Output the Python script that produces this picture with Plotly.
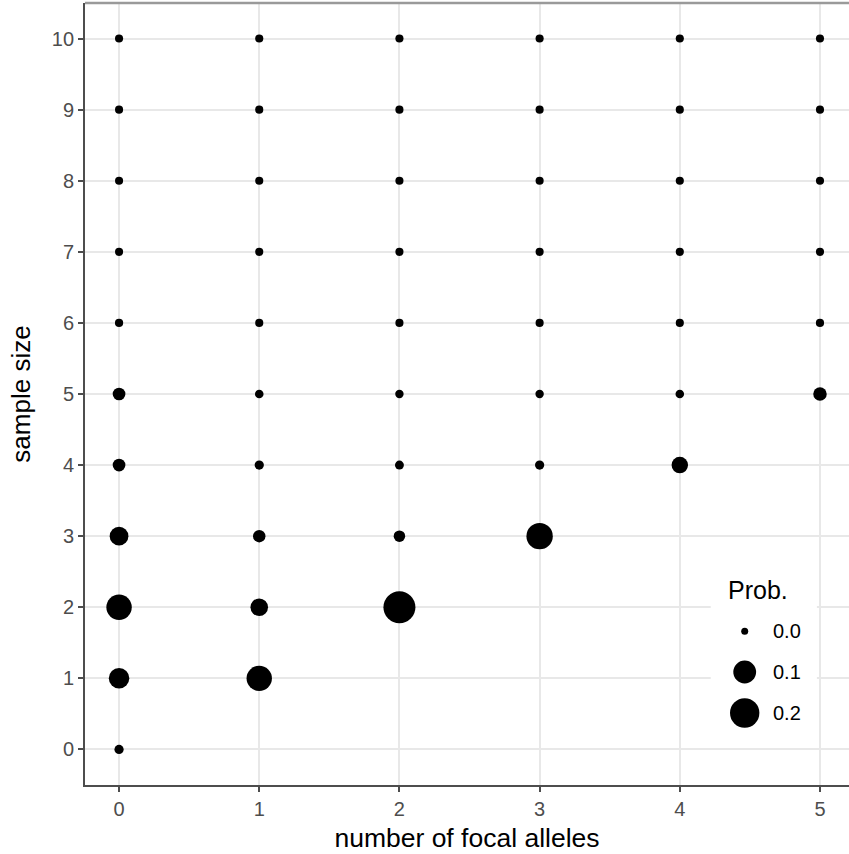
import plotly.graph_objects as go
import numpy as np

# ---- data ----
focal_alleles = [0,
                 0, 1,
                 0, 1, 2,
                 0, 1, 2, 3,
                 0, 1, 2, 3, 4,
                 0, 1, 2, 3, 4, 5,
                 0, 1, 2, 3, 4, 5,
                 0, 1, 2, 3, 4, 5,
                 0, 1, 2, 3, 4, 5,
                 0, 1, 2, 3, 4, 5,
                 0, 1, 2, 3, 4, 5]
sample_size = [0,
               1, 1,
               2, 2, 2,
               3, 3, 3, 3,
               4, 4, 4, 4, 4,
               5, 5, 5, 5, 5, 5,
               6, 6, 6, 6, 6, 6,
               7, 7, 7, 7, 7, 7,
               8, 8, 8, 8, 8, 8,
               9, 9, 9, 9, 9, 9,
               10, 10, 10, 10, 10, 10]
prob = [0.002,
        0.073, 0.135,
        0.135, 0.045, 0.25,
        0.055, 0.012, 0.008, 0.15,
        0.013, 0.002, 0.0015, 0.002, 0.036,
        0.013, 0.001, 0.0008, 0.0008, 0.001, 0.017,
        0.0006, 0.0005, 0.0005, 0.0005, 0.0005, 0.0006,
        0.0005, 0.0005, 0.0005, 0.0005, 0.0005, 0.0005,
        0.0005, 0.0005, 0.0005, 0.0005, 0.0005, 0.0005,
        0.0005, 0.0005, 0.0005, 0.0005, 0.0005, 0.0005,
        0.0005, 0.0005, 0.0005, 0.0005, 0.0005, 0.0005]

x_ticks = [0, 1, 2, 3, 4, 5]
y_ticks = [0, 1, 2, 3, 4, 5, 6, 7, 8, 9, 10]
legend_breaks = [0.0, 0.1, 0.2]
legend_labels = ["0.0", "0.1", "0.2"]
legend_title = "Prob."
x_title = "number of focal alleles"
y_title = "sample size"


def dot_diameter(p):
    # area-style size scale (diameter grows with sqrt of probability)
    return 7 + 50 * np.sqrt(np.asarray(p, dtype=float))


FONT = "Liberation Sans, Arial, Helvetica, sans-serif"
W, H = 849, 854
ML, MR, MT, MB = 85, 0, 3, 69

fig = go.Figure()

fig.add_trace(go.Scatter(
    x=focal_alleles, y=sample_size, mode="markers",
    marker=dict(size=dot_diameter(prob), sizemode="diameter", color="#000000",
                line=dict(width=0), opacity=1),
    showlegend=False, hoverinfo="x+y+text", text=[f"{p}" for p in prob],
))

# legend (size guide) drawn in its own small subplot
leg_rows = [0.638, 0.387, 0.135]
fig.add_trace(go.Scatter(
    x=[0.32] * len(legend_breaks), y=leg_rows, mode="markers",
    marker=dict(size=dot_diameter(legend_breaks), sizemode="diameter", color="#000000",
                line=dict(width=0), opacity=1),
    xaxis="x2", yaxis="y2", showlegend=False, hoverinfo="skip",
    cliponaxis=False,
))
for lab, yy in zip(legend_labels, leg_rows):
    fig.add_annotation(x=0.565, y=yy, xref="x2", yref="y2", text=lab, showarrow=False,
                       xanchor="left", yanchor="middle",
                       font=dict(family=FONT, size=20, color="black"))

fig.add_annotation(
    x=0.14, y=0.89, xref="x2", yref="y2", text=legend_title, showarrow=False,
    xanchor="left", yanchor="middle", font=dict(family=FONT, size=25, color="black"),
)

# top panel border (partly cropped in the reference)
fig.add_shape(type="line", xref="paper", yref="paper", x0=0, x1=1, y0=1, y1=1,
              line=dict(color="#9A9A9A", width=2.5), layer="above")

fig.update_layout(
    width=W, height=H,
    margin=dict(l=ML, r=MR, t=MT, b=MB, pad=0),
    paper_bgcolor="white", plot_bgcolor="white",
    font=dict(family=FONT, color="black"),
    xaxis=dict(
        range=[-0.243, 5.207], tickvals=x_ticks, ticktext=[str(v) for v in x_ticks],
        showgrid=True, gridcolor="#E8E8E8", gridwidth=1.6, zeroline=False,
        showline=True, linecolor="#4D4D4D", linewidth=1.8,
        ticks="outside", ticklen=5, tickwidth=1.6, tickcolor="#4D4D4D",
        tickfont=dict(family=FONT, size=20, color="#4D4D4D"),
        title=dict(text=x_title, font=dict(family=FONT, size=26.5, color="black"), standoff=10),
        fixedrange=True,
    ),
    yaxis=dict(
        range=[-0.5, 10.5], tickvals=y_ticks, ticktext=[str(v) for v in y_ticks],
        showgrid=True, gridcolor="#E8E8E8", gridwidth=1.6, zeroline=False,
        showline=True, linecolor="#4D4D4D", linewidth=1.8,
        ticks="outside", ticklen=5, tickwidth=1.6, tickcolor="#4D4D4D",
        tickfont=dict(family=FONT, size=20, color="#4D4D4D"),
        title=dict(text=y_title, font=dict(family=FONT, size=26, color="black"), standoff=14),
        fixedrange=True,
    ),
    xaxis2=dict(domain=[0.819, 0.958], range=[0, 1], visible=False, fixedrange=True,
                anchor="y2"),
    yaxis2=dict(domain=[0.064, 0.272], range=[0, 1], visible=False, fixedrange=True,
                anchor="x2"),
)

fig.write_html("out.html", config={"displayModeBar": False},
               post_script="document.body.style.margin='0';")
